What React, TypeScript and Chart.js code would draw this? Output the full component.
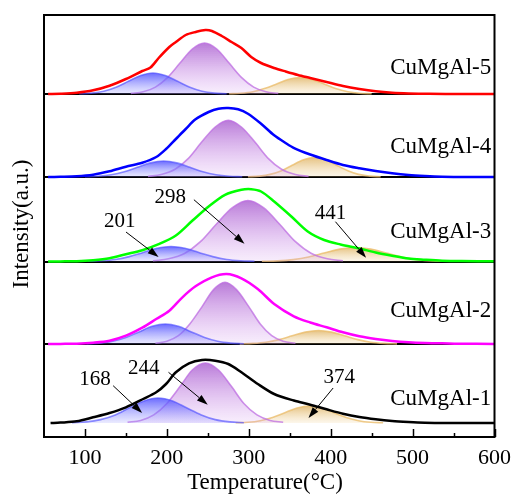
import React, { useEffect, useRef } from "react";
import { Chart, registerables } from "chart.js";

Chart.register(...registerables);

// ---------- axis / labels ----------
const xTickValues = [100, 200, 300, 400, 500, 600];
const xMinorTicks = [150, 250, 350, 450, 550];
const xTitle = "Temperature(°C)";
const yTitle = "Intensity(a.u.)";

// ---------- samples (bottom to top) ----------
const sampleNames = ["CuMgAl-1", "CuMgAl-2", "CuMgAl-3", "CuMgAl-4", "CuMgAl-5"];
const sampleColors = ["#000000", "#ff00ff", "#00ff00", "#0000ff", "#ff0000"];
const panelOffsets = [14, 93, 175.5, 260, 343];

// ---------- envelope curves (temperature, intensity above baseline) ----------
const env1T = [58, 70, 90, 110, 130, 150, 171, 187, 199, 211, 227, 243, 259, 275, 291, 311, 331, 355, 375, 395, 415, 435, 455, 475, 495, 515, 540, 600];
const env1H = [0, 0.4, 1.7, 5.7, 10, 15.7, 24, 30.7, 39, 50.7, 59.7, 63, 62.3, 59, 50.7, 39, 29, 22.5, 18.3, 13.7, 9.3, 6, 3.7, 2, 1, 0.3, 0, 0];

const env2T = [55, 70, 90, 110, 130, 150, 170, 187, 203, 219, 235, 255, 273, 291, 311, 331, 355, 375, 395, 415, 435, 455, 475, 495, 515, 536, 556, 600];
const env2H = [0, 0.1, 0.3, 1.3, 3.3, 8.3, 16.3, 25, 33.3, 46.7, 57.7, 66.7, 70, 65.7, 55, 40, 27.7, 21.5, 16.7, 11.7, 7.7, 5, 3, 1.7, 1, 0.7, 0.3, 0];

const env3T = [55, 70, 90, 110, 130, 150, 170, 190, 211, 231, 251, 271, 291, 303, 315, 331, 352, 372, 392, 412, 435, 455, 475, 495, 515, 536, 560, 600];
const env3H = [0, 0.1, 0.3, 1.3, 3.3, 7.3, 11.3, 17.3, 26, 40.7, 55, 66.7, 71.7, 72.3, 70, 60, 45, 30, 21.5, 17, 13, 9, 5.8, 3, 1.8, 0.8, 0.4, 0.2];

const env4T = [55, 70, 90, 110, 130, 150, 170, 187, 199, 211, 223, 235, 251, 263, 275, 287, 299, 315, 331, 345, 356, 375, 395, 415, 435, 455, 475, 495, 515, 536, 560, 600];
const env4H = [0, 0.2, 0.7, 2.3, 5.7, 10.3, 14.3, 20, 28, 38, 48, 57.7, 65, 68.3, 69, 67.7, 63.3, 53.3, 41.7, 34, 28.7, 22.5, 17, 12, 8.7, 6, 3.7, 2, 1, 0.3, 0.1, 0];

const env5T = [55, 70, 90, 110, 130, 150, 170, 180, 190, 203, 211, 223, 235, 247, 255, 267, 279, 291, 303, 315, 331, 345, 360, 375, 395, 415, 435, 455, 475, 495, 520, 560, 600];
const env5H = [0, 0.3, 1.3, 3.7, 8.3, 15, 23, 26.5, 36, 47, 52, 59, 62, 64, 63, 58, 52, 46, 37, 31, 26, 22.5, 19, 16, 12, 8, 5, 2.7, 1.3, 0.6, 0.2, 0, 0];

// ---------- fitted peaks ----------
const p1BlueT = [84, 102, 119, 137, 154, 172, 189, 207, 224, 242, 259, 277, 294];
const p1BlueH = [0.3, 1.1, 3.4, 8.1, 15.2, 22.1, 25, 22.1, 15.2, 8.1, 3.4, 1.1, 0.3];
const p1PurpleT = [152, 168, 184, 200, 216, 231, 247, 263, 279, 294, 310, 326, 342];
const p1PurpleH = [0.7, 2.6, 8.1, 19.5, 36.4, 53, 60, 53, 36.4, 19.5, 8.1, 2.6, 0.7];
const p1OrangeT = [284, 299, 314, 329, 344, 359, 374, 389, 404, 419, 434, 449, 464];
const p1OrangeH = [0.2, 0.7, 2.3, 5.5, 10.3, 15, 17, 15, 10.3, 5.5, 2.3, 0.7, 0.2];

const p2BlueT = [102, 118, 134, 150, 166, 182, 198, 214, 230, 246, 262, 278, 294];
const p2BlueH = [0.2, 0.9, 2.7, 6.5, 12.1, 17.7, 20, 17.7, 12.1, 6.5, 2.7, 0.9, 0.2];
const p2PurpleT = [186, 200, 214, 228, 243, 257, 271, 285, 300, 314, 328, 342, 357];
const p2PurpleH = [0.7, 2.7, 8.3, 20, 37.4, 54.4, 61.7, 54.4, 37.4, 20, 8.3, 2.7, 0.7];
const p2OrangeT = [289, 305, 321, 337, 353, 369, 385, 401, 417, 433, 449, 465, 481];
const p2OrangeH = [0.1, 0.6, 1.8, 4.4, 8.2, 11.9, 13.5, 11.9, 8.2, 4.4, 1.8, 0.6, 0.1];

const p3BlueT = [103, 120, 137, 154, 171, 188, 205, 222, 239, 256, 273, 290, 307];
const p3BlueH = [0.2, 0.7, 2, 4.9, 9.1, 13.2, 15, 13.2, 9.1, 4.9, 2, 0.7, 0.2];
const p3PurpleT = [183, 202, 222, 241, 260, 280, 299, 318, 338, 357, 376, 396, 415];
const p3PurpleH = [0.7, 2.7, 8.3, 19.8, 37, 53.8, 61, 53.8, 37, 19.8, 8.3, 2.7, 0.7];
const p3OrangeT = [316, 335, 354, 373, 392, 411, 430, 449, 468, 487, 506, 525, 544];
const p3OrangeH = [0.2, 0.6, 1.9, 4.5, 8.5, 12.4, 14, 12.4, 8.5, 4.5, 1.9, 0.6, 0.2];

const p4BlueT = [100, 116, 132, 148, 164, 180, 196, 212, 228, 244, 260, 276, 292];
const p4BlueH = [0.2, 0.7, 2.2, 5.2, 9.7, 14.1, 16, 14.1, 9.7, 5.2, 2.2, 0.7, 0.2];
const p4PurpleT = [177, 193, 210, 226, 242, 259, 275, 291, 308, 324, 340, 357, 373];
const p4PurpleH = [0.6, 2.5, 7.7, 18.4, 34.4, 50, 56.7, 50, 34.4, 18.4, 7.7, 2.5, 0.6];
const p4OrangeT = [299, 313, 326, 340, 353, 367, 380, 394, 407, 421, 434, 448, 461];
const p4OrangeH = [0.2, 0.9, 2.6, 6.3, 11.8, 17.2, 19.5, 17.2, 11.8, 6.3, 2.6, 0.9, 0.2];

const p5BlueT = [93, 108, 123, 138, 153, 168, 183, 198, 213, 228, 243, 258, 273];
const p5BlueH = [0.2, 0.9, 2.8, 6.8, 12.7, 18.5, 21, 18.5, 12.7, 6.8, 2.8, 0.9, 0.2];
const p5PurpleT = [156, 171, 186, 201, 216, 231, 246, 261, 276, 291, 306, 321, 336];
const p5PurpleH = [0.6, 2.2, 6.9, 16.6, 30.9, 45, 51, 45, 30.9, 16.6, 6.9, 2.2, 0.6];
const p5OrangeT = [276, 290, 305, 319, 334, 348, 363, 377, 392, 406, 421, 435, 450];
const p5OrangeH = [0.2, 0.7, 2.2, 5.4, 10, 14.6, 16.5, 14.6, 10, 5.4, 2.2, 0.7, 0.2];

// ---------- annotations (data coordinates) ----------
const annoLabels = ["201", "298", "441", "168", "244", "374"];
const annoTextT = [142.6, 204, 399.8, 112.4, 171.8, 410.6];
const annoTextY = [216, 240, 224, 58, 69, 60];
const arrowFromT = [150.1, 233, 405.8, 134.4, 202, 403];
const arrowFromY = [205, 237.3, 215.3, 51.3, 64.7, 49];
const arrowToT = [189.9, 294.8, 443.2, 169.8, 249.9, 372.9];
const arrowToY = [180, 193.3, 179.3, 24, 32.3, 19];

const sampleLabelT = 596;
const sampleLabelY = [38.3, 125.7, 205.3, 290.3, 369];

const FONT = "'Liberation Serif', 'Times New Roman', serif";

const peakStyles = {
  blue: { top: "rgba(80,80,255,0.85)", bottom: "rgba(150,150,255,0.2)", border: "rgba(80,80,255,0.65)" },
  purple: { top: "rgba(165,85,205,0.78)", bottom: "rgba(215,160,240,0.18)", border: "rgba(190,110,225,0.75)" },
  orange: { top: "rgba(215,160,60,0.65)", bottom: "rgba(240,210,150,0.2)", border: "rgba(235,190,110,0.8)" },
};

const envelopes = [
  [env1T, env1H], [env2T, env2H], [env3T, env3H], [env4T, env4H], [env5T, env5H],
];
const peaks = [
  [[p1BlueT, p1BlueH, "blue"], [p1PurpleT, p1PurpleH, "purple"], [p1OrangeT, p1OrangeH, "orange"]],
  [[p2BlueT, p2BlueH, "blue"], [p2PurpleT, p2PurpleH, "purple"], [p2OrangeT, p2OrangeH, "orange"]],
  [[p3BlueT, p3BlueH, "blue"], [p3PurpleT, p3PurpleH, "purple"], [p3OrangeT, p3OrangeH, "orange"]],
  [[p4BlueT, p4BlueH, "blue"], [p4PurpleT, p4PurpleH, "purple"], [p4OrangeT, p4OrangeH, "orange"]],
  [[p5BlueT, p5BlueH, "blue"], [p5PurpleT, p5PurpleH, "purple"], [p5OrangeT, p5OrangeH, "orange"]],
];

function buildDatasets() {
  const ds: any[] = [];
  for (let i = 0; i < 5; i++) {
    const off = panelOffsets[i];
    const [et, eh] = envelopes[i];
    ds.push({
      label: sampleNames[i],
      data: (et as number[]).map((t, k) => ({ x: t, y: (eh as number[])[k] + off })),
      borderColor: sampleColors[i],
      borderWidth: 2.5,
      pointRadius: 0,
      fill: false,
      tension: 0.3,
      cubicInterpolationMode: "default",
      order: 0,
    });
    peaks[i].forEach((p: any, j: number) => {
      const [pt, ph, kind] = p;
      const st = (peakStyles as any)[kind];
      const maxY = Math.max(...ph) + off;
      ds.push({
        label: sampleNames[i] + "-" + kind,
        data: pt.map((t: number, k: number) => ({ x: t, y: ph[k] + off })),
        borderColor: st.border,
        borderWidth: 1.6,
        pointRadius: 0,
        cubicInterpolationMode: "monotone",
        fill: { value: off },
        order: 1 + j,
        backgroundColor: (ctx: any) => {
          const chart = ctx.chart;
          const area = chart.chartArea;
          if (!area || !chart.scales.y) return st.top;
          const ys = chart.scales.y;
          const top = ys.getPixelForValue(maxY);
          const base = ys.getPixelForValue(off);
          const g = chart.ctx.createLinearGradient(0, top, 0, base);
          g.addColorStop(0, st.top);
          g.addColorStop(1, st.bottom);
          return g;
        },
      });
    });
  }
  return ds;
}

function drawArrow(ctx: CanvasRenderingContext2D, x1: number, y1: number, x2: number, y2: number) {
  const ang = Math.atan2(y2 - y1, x2 - x1);
  const head = 11;
  const hw = 3.6;
  const bx = x2 - head * Math.cos(ang);
  const by = y2 - head * Math.sin(ang);
  ctx.beginPath();
  ctx.moveTo(x1, y1);
  ctx.lineTo(bx, by);
  ctx.strokeStyle = "#000";
  ctx.lineWidth = 1;
  ctx.stroke();
  ctx.beginPath();
  ctx.moveTo(x2, y2);
  ctx.lineTo(bx + hw * Math.sin(ang), by - hw * Math.cos(ang));
  ctx.lineTo(bx - hw * Math.sin(ang), by + hw * Math.cos(ang));
  ctx.closePath();
  ctx.fillStyle = "#000";
  ctx.fill();
}

const decorPlugin = {
  id: "decor",
  beforeDatasetsDraw(chart: any) {
    const { ctx, chartArea: a, scales } = chart;
    const ys = scales.y;
    ctx.save();
    ctx.strokeStyle = "#000";
    ctx.lineWidth = 2;
    for (let i = 1; i < panelOffsets.length; i++) {
      const py = Math.round(ys.getPixelForValue(panelOffsets[i]));
      ctx.beginPath();
      ctx.moveTo(a.left, py);
      ctx.lineTo(a.right, py);
      ctx.stroke();
    }
    ctx.restore();
  },
  afterDatasetsDraw(chart: any) {
    const { ctx, chartArea: a, scales } = chart;
    const xs = scales.x;
    const ys = scales.y;
    ctx.save();
    // frame
    ctx.strokeStyle = "#000";
    ctx.lineWidth = 2;
    ctx.strokeRect(a.left, a.top, a.right - a.left, a.bottom - a.top);
    // inside ticks
    ctx.lineWidth = 1.5;
    xTickValues.forEach((v) => {
      const px = Math.round(xs.getPixelForValue(v)) + 0.5;
      ctx.beginPath();
      ctx.moveTo(px, a.bottom);
      ctx.lineTo(px, a.bottom - 8);
      ctx.stroke();
    });
    xMinorTicks.forEach((v) => {
      const px = Math.round(xs.getPixelForValue(v)) + 0.5;
      ctx.beginPath();
      ctx.moveTo(px, a.bottom);
      ctx.lineTo(px, a.bottom - 4);
      ctx.stroke();
    });
    // sample labels
    ctx.fillStyle = "#000";
    ctx.font = `23px ${FONT}`;
    ctx.textAlign = "right";
    ctx.textBaseline = "middle";
    sampleNames.forEach((n, i) => {
      ctx.fillText(n, xs.getPixelForValue(sampleLabelT), ys.getPixelForValue(sampleLabelY[i]));
    });
    // annotations
    ctx.font = `21px ${FONT}`;
    ctx.textAlign = "center";
    annoLabels.forEach((l, i) => {
      ctx.fillStyle = "#000";
      ctx.fillText(l, xs.getPixelForValue(annoTextT[i]), ys.getPixelForValue(annoTextY[i]));
      drawArrow(
        ctx,
        xs.getPixelForValue(arrowFromT[i]),
        ys.getPixelForValue(arrowFromY[i]),
        xs.getPixelForValue(arrowToT[i]),
        ys.getPixelForValue(arrowToY[i])
      );
    });
    // axis titles
    ctx.fillStyle = "#000";
    ctx.font = `23px ${FONT}`;
    ctx.textAlign = "center";
    ctx.textBaseline = "middle";
    ctx.fillText(xTitle, 265, 483);
    ctx.translate(22, 224);
    ctx.rotate(-Math.PI / 2);
    ctx.fillText(yTitle, 0, 0);
    ctx.restore();
  },
};

export default function App() {
  const ref = useRef<HTMLCanvasElement | null>(null);
  useEffect(() => {
    if (!ref.current) return;
    const chart = new Chart(ref.current, {
      type: "line",
      data: { datasets: buildDatasets() },
      options: {
        animation: false,
        responsive: false,
        devicePixelRatio: 1,
        layout: { padding: { top: 15, right: 19, left: 44, bottom: 0 } },
        plugins: { legend: { display: false }, tooltip: { enabled: false } },
        scales: {
          x: {
            type: "linear",
            min: 50,
            max: 600,
            grid: { display: false, drawTicks: false },
            border: { display: false },
            afterBuildTicks: (s: any) => {
              s.ticks = xTickValues.map((v) => ({ value: v }));
            },
            afterFit: (s: any) => {
              s.height = 59;
            },
            ticks: {
              padding: 8,
              maxRotation: 0,
              autoSkip: false,
              color: "#000",
              font: { family: FONT, size: 22 },
            },
          },
          y: {
            type: "linear",
            min: 0,
            max: 422,
            display: false,
          },
        },
      },
      plugins: [decorPlugin],
    });
    return () => chart.destroy();
  }, []);
  return (
    <div style={{ position: "absolute", left: 0, top: 0, width: 519, height: 496, background: "#fff" }}>
      <canvas ref={ref} width={519} height={496} />
    </div>
  );
}
